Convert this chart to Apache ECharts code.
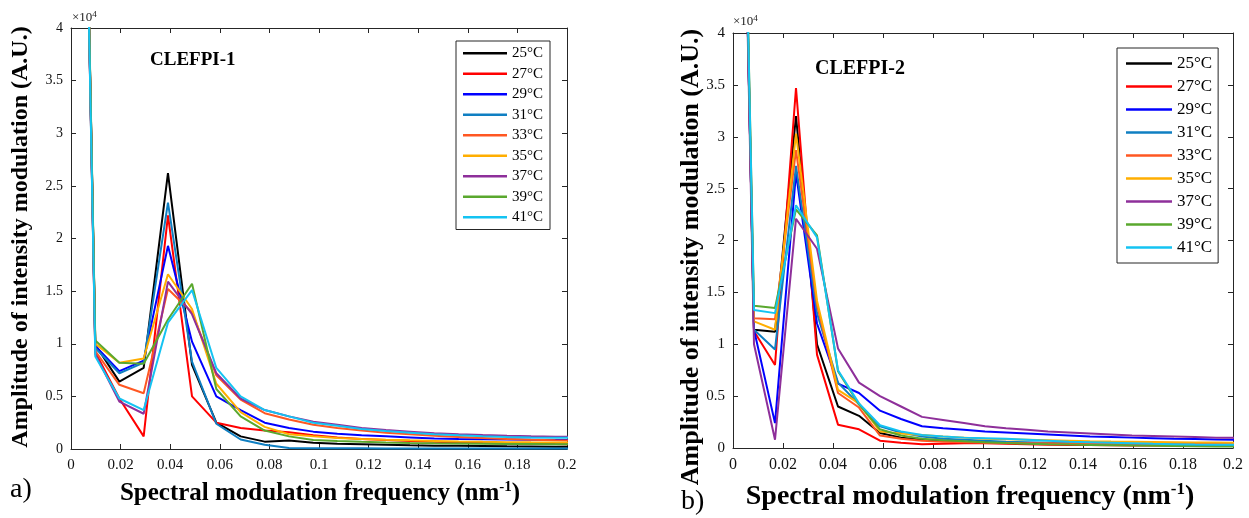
<!DOCTYPE html>
<html>
<head>
<meta charset="utf-8">
<script src="https://cdn.jsdelivr.net/npm/echarts@6/dist/echarts.min.js"></script>
<style>
html,body{margin:0;padding:0;background:#fff;}
#chart{width:1249px;height:518px;}
</style>
</head>
<body>
<div id="chart"></div>
<script>
// ---------- DATA (amplitudes in units of 10^4) ----------
const tempLabels = ['25°C','27°C','29°C','31°C','33°C','35°C','37°C','39°C','41°C'];

// Panel a) CLEFPI-1
const freqA = [0, 0.0098, 0.0195, 0.0293, 0.0391, 0.0488, 0.0586, 0.0684, 0.0781, 0.0879, 0.0977, 0.1074, 0.1172, 0.1270, 0.1367, 0.1465, 0.1563, 0.1660, 0.1758, 0.1855, 0.1953, 0.2051];
const ampA25 = [13, 0.99, 0.64, 0.77, 2.62, 0.80, 0.25, 0.12, 0.07, 0.08, 0.06, 0.05, 0.045, 0.04, 0.035, 0.032, 0.03, 0.028, 0.025, 0.024, 0.022, 0.021];
const ampA27 = [13, 0.92, 0.48, 0.12, 2.22, 0.50, 0.25, 0.20, 0.175, 0.16, 0.13, 0.11, 0.095, 0.085, 0.075, 0.068, 0.062, 0.057, 0.053, 0.05, 0.047, 0.045];
const ampA29 = [13, 0.98, 0.74, 0.84, 1.93, 1.02, 0.50, 0.37, 0.25, 0.20, 0.165, 0.145, 0.13, 0.12, 0.11, 0.10, 0.095, 0.092, 0.09, 0.088, 0.086, 0.085];
const ampA31 = [13, 0.96, 0.72, 0.82, 2.34, 0.83, 0.24, 0.09, 0.04, 0.01, 0.008, 0.007, 0.006, 0.005, 0.005, 0.005, 0.005, 0.005, 0.005, 0.005, 0.005, 0.005];
const ampA33 = [13, 0.93, 0.61, 0.53, 1.52, 1.30, 0.70, 0.47, 0.34, 0.28, 0.23, 0.20, 0.175, 0.155, 0.14, 0.125, 0.115, 0.105, 0.095, 0.088, 0.082, 0.078];
const ampA35 = [13, 1.00, 0.82, 0.86, 1.66, 1.33, 0.62, 0.35, 0.21, 0.14, 0.12, 0.105, 0.095, 0.088, 0.082, 0.077, 0.072, 0.068, 0.065, 0.063, 0.062, 0.06];
const ampA37 = [13, 0.90, 0.45, 0.335, 1.59, 1.28, 0.72, 0.48, 0.37, 0.31, 0.26, 0.23, 0.20, 0.18, 0.165, 0.15, 0.14, 0.132, 0.125, 0.12, 0.117, 0.115];
const ampA39 = [13, 1.03, 0.82, 0.81, 1.23, 1.57, 0.57, 0.31, 0.175, 0.12, 0.085, 0.075, 0.068, 0.062, 0.057, 0.054, 0.052, 0.05, 0.048, 0.047, 0.046, 0.045];
const ampA41 = [13, 0.88, 0.48, 0.37, 1.20, 1.51, 0.77, 0.50, 0.37, 0.31, 0.25, 0.22, 0.19, 0.17, 0.155, 0.14, 0.13, 0.122, 0.115, 0.11, 0.107, 0.105];

// Panel b) CLEFPI-2
const freqB = [0, 0.0084, 0.0168, 0.0252, 0.0336, 0.0420, 0.0504, 0.0588, 0.0672, 0.0756, 0.0840, 0.0924, 0.1008, 0.1092, 0.1176, 0.1260, 0.1344, 0.1428, 0.1512, 0.1596, 0.1680, 0.1764, 0.1848, 0.1932, 0.2016];
const ampB25 = [11, 1.14, 1.12, 3.20, 1.00, 0.40, 0.31, 0.145, 0.10, 0.08, 0.07, 0.06, 0.055, 0.05, 0.047, 0.044, 0.042, 0.04, 0.038, 0.036, 0.034, 0.033, 0.032, 0.031, 0.03];
const ampB27 = [11, 1.125, 0.80, 3.47, 0.90, 0.225, 0.18, 0.07, 0.05, 0.035, 0.04, 0.045, 0.045, 0.04, 0.035, 0.032, 0.03, 0.028, 0.026, 0.025, 0.024, 0.023, 0.022, 0.021, 0.02];
const ampB29 = [11, 1.14, 0.24, 2.65, 1.20, 0.62, 0.53, 0.36, 0.28, 0.21, 0.19, 0.175, 0.16, 0.15, 0.14, 0.13, 0.12, 0.11, 0.105, 0.10, 0.095, 0.09, 0.087, 0.083, 0.08];
const ampB31 = [11, 1.14, 0.95, 2.72, 1.30, 0.63, 0.42, 0.21, 0.15, 0.11, 0.09, 0.08, 0.07, 0.06, 0.055, 0.05, 0.045, 0.04, 0.037, 0.034, 0.032, 0.03, 0.028, 0.027, 0.026];
const ampB33 = [11, 1.25, 1.24, 2.87, 1.38, 0.53, 0.39, 0.12, 0.09, 0.07, 0.06, 0.055, 0.05, 0.048, 0.046, 0.045, 0.044, 0.043, 0.042, 0.041, 0.04, 0.04, 0.04, 0.04, 0.04];
const ampB35 = [11, 1.22, 1.14, 3.03, 1.42, 0.56, 0.43, 0.16, 0.14, 0.125, 0.11, 0.10, 0.09, 0.085, 0.08, 0.075, 0.07, 0.065, 0.062, 0.06, 0.058, 0.056, 0.054, 0.052, 0.05];
const ampB37 = [11, 1.00, 0.08, 2.21, 1.92, 0.96, 0.63, 0.50, 0.40, 0.30, 0.27, 0.24, 0.21, 0.19, 0.175, 0.16, 0.15, 0.14, 0.13, 0.12, 0.115, 0.11, 0.105, 0.10, 0.10];
const ampB39 = [11, 1.37, 1.35, 2.30, 2.05, 0.74, 0.42, 0.18, 0.12, 0.09, 0.075, 0.065, 0.055, 0.048, 0.042, 0.037, 0.033, 0.03, 0.027, 0.024, 0.022, 0.02, 0.017, 0.015, 0.013];
const ampB41 = [11, 1.33, 1.30, 2.34, 2.03, 0.75, 0.43, 0.22, 0.16, 0.125, 0.11, 0.10, 0.095, 0.09, 0.08, 0.07, 0.06, 0.055, 0.05, 0.045, 0.04, 0.037, 0.034, 0.032, 0.03];

const seriesA = [ampA25, ampA27, ampA29, ampA31, ampA33, ampA35, ampA37, ampA39, ampA41];
const seriesB = [ampB25, ampB27, ampB29, ampB31, ampB33, ampB35, ampB37, ampB39, ampB41];

// ---------- STYLE ----------
const colors = ['#000000','#ff0000','#0000ff','#0f7fc2','#ff5722','#ffae00','#8e2f9a','#5aa82e','#14c3f2'];
const serif = 'Liberation Serif';
const axisColor = '#262626';

function xAx(grid, pos, fs){
  return {
    gridIndex: grid, type: 'value', min: 0, max: 0.2, interval: 0.02, position: pos,
    axisLine: {show: true, onZero: false, lineStyle: {color: axisColor, width: 1}},
    axisTick: {show: true, inside: true, length: 5, lineStyle: {color: axisColor}},
    axisLabel: {show: pos === 'bottom', fontFamily: serif, fontSize: fs, color: '#111', margin: 9},
    splitLine: {show: false}
  };
}
function yAx(grid, pos, fs){
  return {
    gridIndex: grid, type: 'value', min: 0, max: 4, interval: 0.5, position: pos,
    axisLine: {show: true, onZero: false, lineStyle: {color: axisColor, width: 1}},
    axisTick: {show: true, inside: true, length: 5, lineStyle: {color: axisColor}},
    axisLabel: {show: pos === 'left', fontFamily: serif, fontSize: fs, color: '#111', margin: 8},
    splitLine: {show: false}
  };
}

const series = [];
seriesA.forEach((arr, i) => {
  series.push({
    name: tempLabels[i], type: 'line', xAxisIndex: 0, yAxisIndex: 0,
    data: freqA.map((f, k) => [f, arr[k]]),
    showSymbol: false, clip: true,
    lineStyle: {width: 2, color: colors[i]}, itemStyle: {color: colors[i]}
  });
});
seriesB.forEach((arr, i) => {
  series.push({
    name: tempLabels[i], type: 'line', xAxisIndex: 2, yAxisIndex: 2,
    data: freqB.map((f, k) => [f, arr[k]]),
    showSymbol: false, clip: true,
    lineStyle: {width: 2, color: colors[i]}, itemStyle: {color: colors[i]}
  });
});

const supRich = (fs, sfs) => ({
  b: {fontFamily: serif, fontWeight: 'bold', fontSize: fs, fill: '#000', lineHeight: fs + 4},
  s: {fontFamily: serif, fontWeight: 'bold', fontSize: sfs, fill: '#000', verticalAlign: 'top', lineHeight: fs + 4}
});

const option = {
  animation: false,
  backgroundColor: '#ffffff',
  grid: [
    {left: 71, top: 28, width: 496, height: 421, show: false},
    {left: 733, top: 33, width: 500, height: 415, show: false}
  ],
  xAxis: [xAx(0,'bottom',15), xAx(0,'top',15), xAx(1,'bottom',16), xAx(1,'top',16)],
  yAxis: [yAx(0,'left',14), yAx(0,'right',14), yAx(1,'left',15), yAx(1,'right',15)],
  legend: [
    {
      data: tempLabels, orient: 'vertical', left: 456, top: 41,
      padding: [4, 7, 4, 7], itemGap: 4, itemWidth: 44, itemHeight: 2.5, icon: 'rect',
      borderColor: axisColor, borderWidth: 1, backgroundColor: '#fff',
      textStyle: {fontFamily: serif, fontSize: 15, color: '#000', lineHeight: 16.5}
    },
    {
      data: tempLabels, orient: 'vertical', left: 1117, top: 48,
      padding: [6, 6, 6, 9], itemGap: 4, itemWidth: 46, itemHeight: 2.5, icon: 'rect',
      borderColor: axisColor, borderWidth: 1, backgroundColor: '#fff',
      textStyle: {fontFamily: serif, fontSize: 17, color: '#000', lineHeight: 19}
    }
  ],
  series: series,
  graphic: [
    {type: 'text', left: 150, top: 51, style: {text: 'CLEFPI-1', fontFamily: serif, fontWeight: 'bold', fontSize: 19, fill: '#000'}},
    {type: 'text', left: 815, top: 59, style: {text: 'CLEFPI-2', fontFamily: serif, fontWeight: 'bold', fontSize: 20, fill: '#000'}},
    {type: 'text', left: 72, top: 10, style: {text: '{a|×10}{s|4}', rich: {
      a: {fontFamily: serif, fontSize: 13, fill: '#222', lineHeight: 16},
      s: {fontFamily: serif, fontSize: 9, fill: '#222', verticalAlign: 'top', lineHeight: 16}}}},
    {type: 'text', left: 733, top: 14, style: {text: '{a|×10}{s|4}', rich: {
      a: {fontFamily: serif, fontSize: 13, fill: '#222', lineHeight: 16},
      s: {fontFamily: serif, fontSize: 9, fill: '#222', verticalAlign: 'top', lineHeight: 16}}}},
    {type: 'text', x: 21, y: 237, rotation: Math.PI / 2, style: {
      text: 'Amplitude of intensity modulation (A.U.)', fontFamily: serif, fontWeight: 'bold',
      fontSize: 24, fill: '#000', align: 'center', verticalAlign: 'middle'}},
    {type: 'text', x: 691, y: 257, rotation: Math.PI / 2, style: {
      text: 'Amplitude of intensity modulation (A.U.)', fontFamily: serif, fontWeight: 'bold',
      fontSize: 26, fill: '#000', align: 'center', verticalAlign: 'middle'}},
    {type: 'text', x: 320, y: 494, style: {
      text: '{b|Spectral modulation frequency (nm}{s|-1}{b|)}', rich: supRich(25, 15),
      align: 'center', verticalAlign: 'middle'}},
    {type: 'text', x: 970, y: 497, style: {
      text: '{b|Spectral modulation frequency (nm}{s|-1}{b|)}', rich: supRich(28, 17),
      align: 'center', verticalAlign: 'middle'}},
    {type: 'text', left: 10, top: 476, style: {text: 'a)', fontFamily: serif, fontSize: 28, fill: '#000'}},
    {type: 'text', left: 681, top: 488, style: {text: 'b)', fontFamily: serif, fontSize: 28, fill: '#000'}}
  ]
};

const chart = echarts.init(document.getElementById('chart'), null, {renderer: 'canvas'});
chart.setOption(option);
</script>
</body>
</html>
